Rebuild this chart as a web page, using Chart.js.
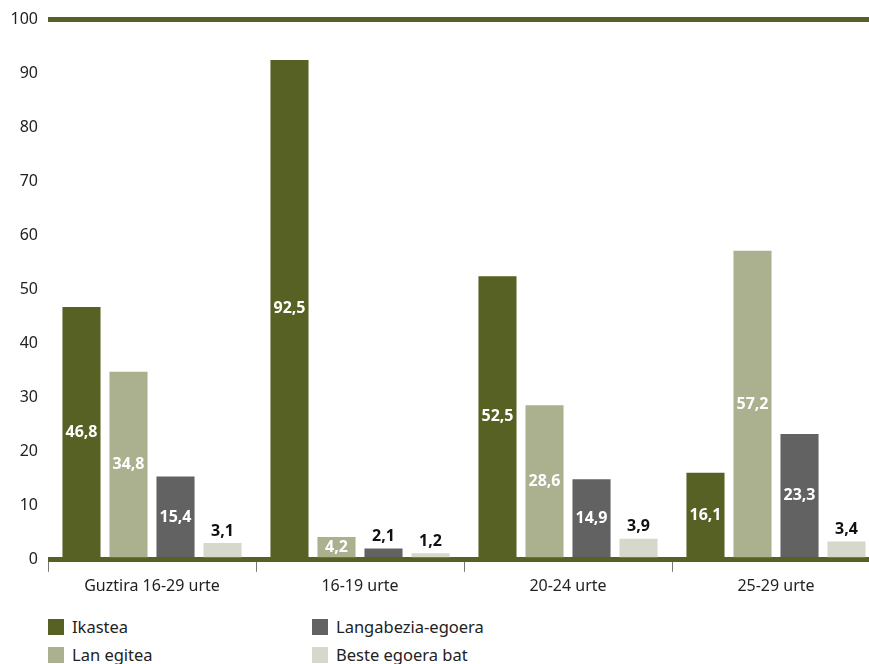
<!DOCTYPE html>
<html>
<head>
<meta charset="utf-8">
<script src="https://cdn.jsdelivr.net/npm/chart.js@4.4.0/dist/chart.umd.min.js"></script>
<style>
  body { margin: 0; background: #fff; font-family: "Noto Sans", sans-serif; }
  #wrap { position: relative; width: 869px; height: 664px; overflow: hidden; }
  #chart { position: absolute; left: 0; top: 0; }
  .leg { position: absolute; font-size: 16.5px; color: #222; line-height: 18px; }
  .leg span { display: inline-block; width: 16px; height: 16px; vertical-align: -2px; margin-right: 8px; }
</style>
</head>
<body>
<div id="wrap">
  <canvas id="chart" width="881" height="601"></canvas>
  <div class="leg" style="left:48px; top:618px;"><span style="background:#566123"></span>Ikastea</div>
  <div class="leg" style="left:312px; top:618px;"><span style="background:#626262"></span>Langabezia-egoera</div>
  <div class="leg" style="left:48px; top:646px;"><span style="background:#abb08f"></span>Lan egitea</div>
  <div class="leg" style="left:312px; top:646px;"><span style="background:#d5d8ca"></span>Beste egoera bat</div>
</div>
<script>
// categories and series
var categories = ['Guztira 16-29 urte', '16-19 urte', '20-24 urte', '25-29 urte'];
var ikastea = [46.8, 92.5, 52.5, 16.1];
var lanEgitea = [34.8, 4.2, 28.6, 57.2];
var langabezia = [15.4, 2.1, 14.9, 23.3];
var beste = [3.1, 1.2, 3.9, 3.4];
var yTicks = [0, 10, 20, 30, 40, 50, 60, 70, 80, 90, 100];

var olive = '#566123';

// draw values on bars: inside in white, above in black for small bars
var valueLabels = {
    id: 'valueLabels',
    afterDatasetsDraw: function (chart) {
        var ctx = chart.ctx;
        ctx.save();
        ctx.font = 'bold 16px "Noto Sans", sans-serif';
        ctx.textAlign = 'center';
        chart.data.datasets.forEach(function (ds, i) {
            chart.getDatasetMeta(i).data.forEach(function (bar, j) {
                var v = ds.data[j];
                var txt = v.toFixed(1).replace('.', ',');
                if (v >= 4) {
                    ctx.fillStyle = '#fff';
                    ctx.textBaseline = 'middle';
                    ctx.fillText(txt, bar.x, (bar.y + bar.base) / 2);
                } else {
                    ctx.fillStyle = '#111';
                    ctx.textBaseline = 'bottom';
                    ctx.fillText(txt, bar.x, bar.y - 4);
                }
            });
        });
        ctx.restore();
    }
};

var ctx = document.getElementById('chart').getContext('2d');
var myChart = new Chart(ctx, {
    type: 'bar',
    data: {
        labels: categories,
        datasets: [
            { label: 'Ikastea', data: ikastea, backgroundColor: '#566123' },
            { label: 'Lan egitea', data: lanEgitea, backgroundColor: '#abb08f' },
            { label: 'Langabezia-egoera', data: langabezia, backgroundColor: '#626262' },
            { label: 'Beste egoera bat', data: beste, backgroundColor: '#d5d8ca' }
        ]
    },
    options: {
        responsive: false,
        animation: false,
        layout: { padding: { top: 10, right: 1, left: 0, bottom: 0 } },
        categoryPercentage: 0.904,
        barPercentage: 0.81,
        plugins: {
            legend: { display: false },
            tooltip: { enabled: false }
        },
        scales: {
            x: {
                offset: true,
                grid: {
                    offset: true,
                    drawOnChartArea: false,
                    tickLength: 12,
                    color: function (c) { return c.index === categories.length ? 'rgba(0,0,0,0)' : '#777'; },
                    lineWidth: 1
                },
                border: { display: false },
                ticks: {
                    color: '#222',
                    font: { size: 16, family: '"Noto Sans", sans-serif' },
                    padding: 5
                }
            },
            y: {
                min: 0,
                max: 100,
                afterFit: function (scale) { scale.width = 48; },
                afterBuildTicks: function (scale) {
                    scale.ticks = yTicks.map(function (v) { return { value: v }; });
                },
                grid: {
                    drawTicks: false,
                    color: function (c) {
                        return (c.tick && (c.tick.value === 0 || c.tick.value === 100)) ? olive : 'rgba(0,0,0,0)';
                    },
                    lineWidth: function (c) {
                        return (c.tick && (c.tick.value === 0 || c.tick.value === 100)) ? 5 : 0;
                    }
                },
                border: { display: false },
                ticks: {
                    color: '#222',
                    font: { size: 16, family: '"Noto Sans", sans-serif' },
                    padding: 10
                }
            }
        }
    },
    plugins: [valueLabels]
});
</script>
</body>
</html>
